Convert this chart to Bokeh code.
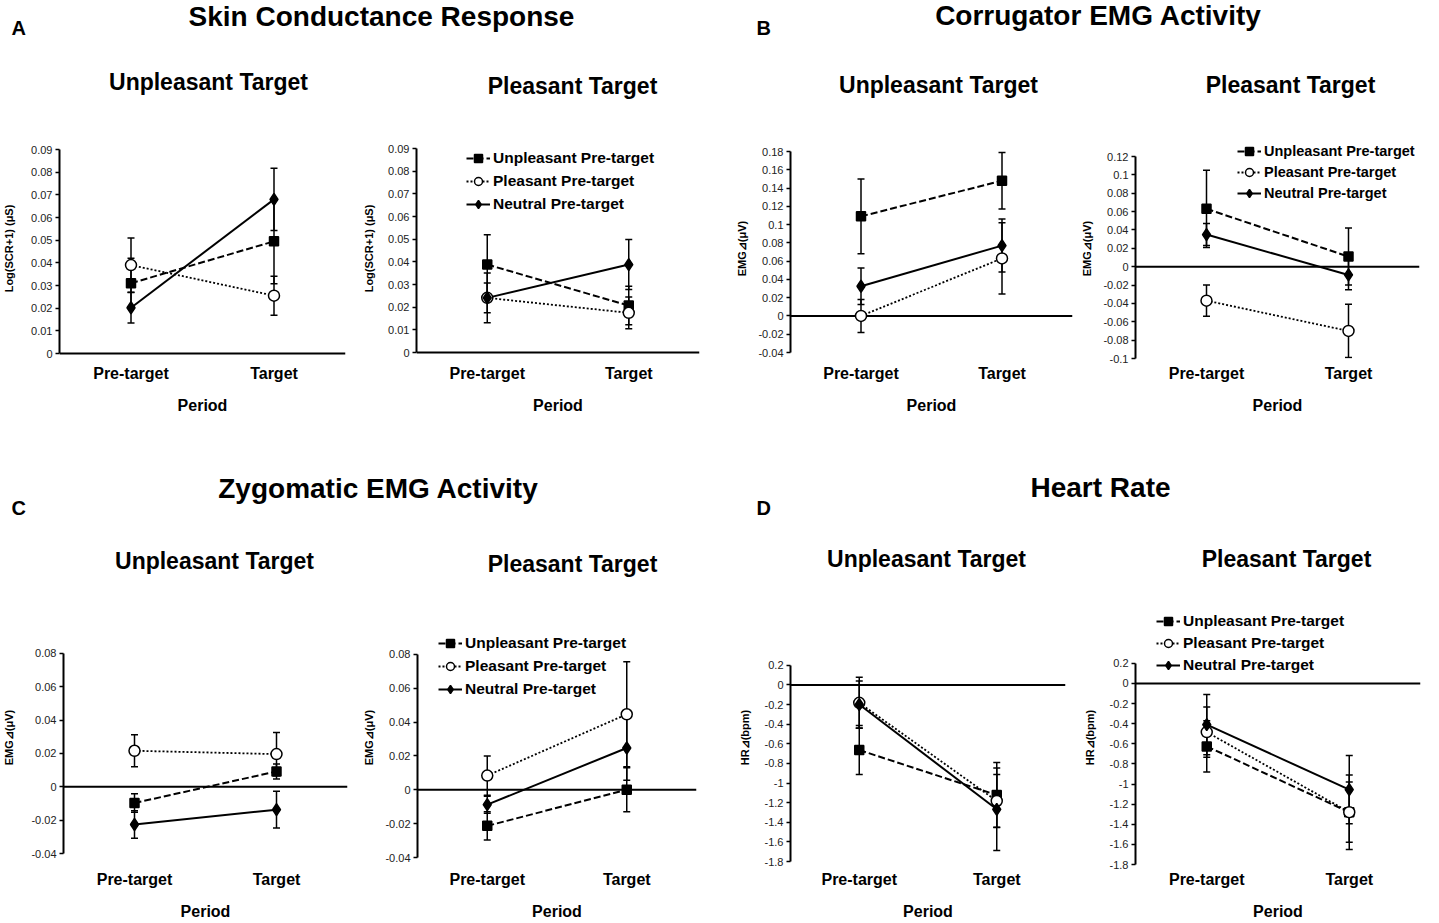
from bokeh.plotting import figure
from bokeh.models import (FactorRange, Range1d, FixedTicker, Whisker, TeeHead,
                          ColumnDataSource, Legend, LegendItem, Span)
from bokeh.layouts import column, row
from bokeh.embed import file_html
from bokeh.resources import INLINE
from bokeh.core.properties import value

FONT = "Liberation Sans"

# ---------------- data ----------------
categories = ["Pre-target", "Target"]
series_names = ["Unpleasant Pre-target", "Pleasant Pre-target", "Neutral Pre-target"]

section_titles = ["Skin Conductance Response", "Corrugator EMG Activity",
                  "Zygomatic EMG Activity", "Heart Rate"]
section_letters = ["A", "B", "C", "D"]
panel_titles = ["Unpleasant Target", "Pleasant Target"]
x_label = "Period"
y_label_scr = "Log(SCR+1) (μS)"
y_label_emg = "EMG⊿(μV)"
y_label_hr = "HR⊿(bpm)"

# A - Skin conductance, unpleasant target
scr_u_unp = [0.031, 0.0495]
scr_u_unp_err = [0.011, 0.0187]
scr_u_ple = [0.039, 0.0255]
scr_u_ple_err = [0.012, 0.0086]
scr_u_neu = [0.0202, 0.068]
scr_u_neu_err = [0.0067, 0.0137]
# A - Skin conductance, pleasant target
scr_p_unp = [0.0388, 0.0207]
scr_p_unp_err = [0.0132, 0.0085]
scr_p_ple = [0.0241, 0.0175]
scr_p_ple_err = [0.0066, 0.007]
scr_p_neu = [0.0241, 0.0388]
scr_p_neu_err = [0.011, 0.011]

# B - Corrugator, unpleasant target
cor_u_unp = [0.109, 0.148]
cor_u_unp_err = [0.041, 0.031]
cor_u_ple = [0.0, 0.063]
cor_u_ple_err = [0.018, 0.039]
cor_u_neu = [0.0325, 0.077]
cor_u_neu_err = [0.02, 0.029]
# B - Corrugator, pleasant target
cor_p_unp = [0.063, 0.011]
cor_p_unp_err = [0.042, 0.031]
cor_p_ple = [-0.037, -0.070]
cor_p_ple_err = [0.017, 0.029]
cor_p_neu = [0.035, -0.009]
cor_p_neu_err = [0.012, 0.016]

# C - Zygomatic, unpleasant target
zyg_u_unp = [-0.0097, 0.0092]
zyg_u_unp_err = [0.0055, 0.0045]
zyg_u_ple = [0.0216, 0.0196]
zyg_u_ple_err = [0.0096, 0.013]
zyg_u_neu = [-0.0226, -0.0137]
zyg_u_neu_err = [0.0083, 0.011]
# C - Zygomatic, pleasant target
zyg_p_unp = [-0.0213, 0.0]
zyg_p_unp_err = [0.0083, 0.013]
zyg_p_ple = [0.0084, 0.0446]
zyg_p_ple_err = [0.0116, 0.031]
zyg_p_neu = [-0.0088, 0.0247]
zyg_p_neu_err = [0.005, 0.019]

# D - Heart rate, unpleasant target
hr_u_unp = [-0.664, -1.122]
hr_u_unp_err = [0.25, 0.33]
hr_u_ple = [-0.183, -1.183]
hr_u_ple_err = [0.26, 0.27]
hr_u_neu = [-0.20, -1.268]
hr_u_neu_err = [0.24, 0.42]
# D - Heart rate, pleasant target
hr_p_unp = [-0.626, -1.28]
hr_p_unp_err = [0.255, 0.30]
hr_p_ple = [-0.484, -1.28]
hr_p_ple_err = [0.25, 0.37]
hr_p_neu = [-0.41, -1.056]
hr_p_neu_err = [0.30, 0.34]

# y tick values (labels in Excel "General" style)
yticks_scr = [0, 0.01, 0.02, 0.03, 0.04, 0.05, 0.06, 0.07, 0.08, 0.09]
yticks_cor_u = [-0.04, -0.02, 0, 0.02, 0.04, 0.06, 0.08, 0.1, 0.12, 0.14, 0.16, 0.18]
yticks_cor_p = [-0.1, -0.08, -0.06, -0.04, -0.02, 0, 0.02, 0.04, 0.06, 0.08, 0.1, 0.12]
yticks_zyg = [-0.04, -0.02, 0, 0.02, 0.04, 0.06, 0.08]
yticks_hr = [-1.8, -1.6, -1.4, -1.2, -1, -0.8, -0.6, -0.4, -0.2, 0, 0.2]

# ---------------- styles ----------------
STYLES = [
    dict(dash="7 3", marker="square", size=9, fill="black", lw=2.0),
    dict(dash="2 2", marker="circle", size=11, fill="white", lw=1.8),
    dict(dash="solid", marker="diamond", size=12, fill="black", lw=2.0),
]

# rows: (page top, height, frame top, frame bottom)
ROW1 = (105, 320, 138, 358)
ROW2 = (590, 332, 610, 865)


def make_panel(w, bl, br, rowspec, tick_top, tick_bot, yticks, ylabel, ylab_off,
               means, errs, legend_loc=None, legend_spacing=3, legend_size="15.5px"):
    row_top, h, f_top, f_bot = rowspec
    ymin, ymax = yticks[0], yticks[-1]
    per_px = (ymax - ymin) / (tick_bot - tick_top)
    y_end = ymax + (tick_top - f_top) * per_px
    y_start = ymin - (f_bot - tick_bot) * per_px
    p = figure(width=w, height=h,
               x_range=FactorRange(factors=categories, range_padding=0),
               y_range=Range1d(y_start, y_end),
               output_backend="svg", toolbar_location=None,
               min_border_left=bl, min_border_right=br,
               min_border_top=f_top - row_top, min_border_bottom=row_top + h - f_bot)
    p.outline_line_color = None
    p.xgrid.grid_line_color = None
    p.ygrid.grid_line_color = None
    p.background_fill_color = "white"
    p.border_fill_color = "white"

    yax = p.yaxis[0]
    yax.bounds = (ymin, ymax)
    yax.ticker = FixedTicker(ticks=yticks)
    yax.major_label_overrides = {t: f"{t:g}" for t in yticks}
    yax.major_label_text_font = FONT
    yax.major_label_text_font_size = "11px"
    yax.major_label_text_color = "#222222"
    yax.major_label_standoff = 3
    yax.axis_label = ylabel
    yax.axis_label_text_font = FONT
    yax.axis_label_text_font_size = "11px"
    yax.axis_label_text_font_style = "bold"
    yax.axis_label_text_color = "black"
    yax.axis_label_standoff = ylab_off
    yax.axis_line_color = "black"
    yax.axis_line_width = 2
    yax.major_tick_line_color = "black"
    yax.major_tick_line_width = 1.5
    yax.major_tick_out = 4
    yax.major_tick_in = 0
    yax.minor_tick_line_color = None

    xax = p.xaxis[0]
    xax.axis_line_color = None
    xax.major_tick_line_color = None
    xax.major_tick_out = 0
    xax.major_tick_in = 0
    xax.minor_tick_line_color = None
    xax.major_label_text_font = FONT
    xax.major_label_text_font_size = "16px"
    xax.major_label_text_font_style = "bold"
    xax.major_label_text_color = "black"
    xax.major_label_standoff = 6
    xax.axis_label = x_label
    xax.axis_label_text_font = FONT
    xax.axis_label_text_font_size = "16px"
    xax.axis_label_text_font_style = "bold"
    xax.axis_label_text_color = "black"
    xax.axis_label_standoff = 12

    # horizontal axis line drawn at zero
    p.add_layout(Span(location=0, dimension="width", line_color="black",
                      line_width=2, level="underlay"))

    sources = []
    for m, e in zip(means, errs):
        src = ColumnDataSource(dict(
            x=categories, y=m,
            upper=[a + b for a, b in zip(m, e)],
            lower=[a - b for a, b in zip(m, e)]))
        sources.append(src)
        p.add_layout(Whisker(source=src, base="x", upper="upper", lower="lower",
                             dimension="height", line_color="black", line_width=1.5,
                             level="underlay",
                             upper_head=TeeHead(size=7, line_color="black", line_width=1.5),
                             lower_head=TeeHead(size=7, line_color="black", line_width=1.5)))
    lines = []
    for src, st in zip(sources, STYLES):
        lines.append(p.line("x", "y", source=src, line_color="black",
                            line_width=st["lw"], line_dash=st["dash"]))
    marks = []
    for src, st in zip(sources, STYLES):
        marks.append(p.scatter("x", "y", source=src, marker=st["marker"], size=st["size"],
                               fill_color=st["fill"], line_color="black", line_width=1.5))
    if legend_loc is not None:
        items = [LegendItem(label=n, renderers=[l, s])
                 for n, l, s in zip(series_names, lines, marks)]
        leg = Legend(items=items, location=legend_loc, padding=0, margin=0,
                     spacing=legend_spacing, glyph_width=24, glyph_height=20,
                     label_height=20, label_standoff=3,
                     label_text_font=FONT, label_text_font_size=legend_size,
                     label_text_font_style="bold", label_text_color="black",
                     border_line_color=None, background_fill_alpha=0)
        p.add_layout(leg)
    return p


def strip(h, texts):
    s = figure(width=1439, height=h, x_range=Range1d(0, 1439), y_range=Range1d(h, 0),
               x_axis_type=None, y_axis_type=None, output_backend="svg",
               toolbar_location=None, min_border=0)
    s.outline_line_color = None
    s.background_fill_color = "white"
    s.border_fill_color = "white"
    for txt, x, y, size, align in texts:
        s.text(x=[x], y=[y], text=[txt], text_font=value(FONT), text_font_size=size,
               text_font_style="bold", text_align=align, text_baseline="middle",
               text_color="black")
    return s


top = strip(105, [
    (section_letters[0], 11, 27, "20px", "left"),
    (section_titles[0], 381, 16, "28px", "center"),
    (section_letters[1], 756, 27, "20px", "left"),
    (section_titles[1], 1098, 15, "28px", "center"),
    (panel_titles[0], 208, 81, "23px", "center"),
    (panel_titles[1], 572, 85, "23px", "center"),
    (panel_titles[0], 938, 84, "23px", "center"),
    (panel_titles[1], 1290, 84, "23px", "center"),
])

mid = strip(165, [
    (section_letters[2], 11, 82, "20px", "left"),
    (section_titles[2], 378, 63, "28px", "center"),
    (section_letters[3], 756, 82, "20px", "left"),
    (section_titles[3], 1100, 62, "28px", "center"),
    (panel_titles[0], 214, 135, "23px", "center"),
    (panel_titles[1], 572, 138, "23px", "center"),
    (panel_titles[0], 926, 133, "23px", "center"),
    (panel_titles[1], 1286, 133, "23px", "center"),
])

a1 = make_panel(360, 59, 15, ROW1, 149, 353, yticks_scr, y_label_scr, 13,
                [scr_u_unp, scr_u_ple, scr_u_neu],
                [scr_u_unp_err, scr_u_ple_err, scr_u_neu_err])
a2 = make_panel(370, 52, 31, ROW1, 148, 352, yticks_scr, y_label_scr, 10,
                [scr_p_unp, scr_p_ple, scr_p_neu],
                [scr_p_unp_err, scr_p_ple_err, scr_p_neu_err],
                legend_loc=(50, 144), legend_spacing=3)
b1 = make_panel(348, 60, 6, ROW1, 151, 352, yticks_cor_u, y_label_emg, 7,
                [cor_u_unp, cor_u_ple, cor_u_neu],
                [cor_u_unp_err, cor_u_ple_err, cor_u_neu_err])
b2 = make_panel(361, 52, 20, ROW1, 156, 358, yticks_cor_p, y_label_emg, 7,
                [cor_p_unp, cor_p_ple, cor_p_neu],
                [cor_p_unp_err, cor_p_ple_err, cor_p_neu_err],
                legend_loc=(102, 155), legend_spacing=1, legend_size="14.5px")

c1 = make_panel(360, 62, 13, ROW2, 653, 854, yticks_zyg, y_label_emg, 13,
                [zyg_u_unp, zyg_u_ple, zyg_u_neu],
                [zyg_u_unp_err, zyg_u_ple_err, zyg_u_neu_err])
c2 = make_panel(370, 52, 34, ROW2, 654, 858, yticks_zyg, y_label_emg, 7,
                [zyg_p_unp, zyg_p_ple, zyg_p_neu],
                [zyg_p_unp_err, zyg_p_ple_err, zyg_p_neu_err],
                legend_loc=(21, 165), legend_spacing=3)
d1 = make_panel(350, 60, 15, ROW2, 665, 862, yticks_hr, y_label_hr, 11,
                [hr_u_unp, hr_u_ple, hr_u_neu],
                [hr_u_unp_err, hr_u_ple_err, hr_u_neu_err])
d2 = make_panel(359, 53, 19, ROW2, 663, 865, yticks_hr, y_label_hr, 11,
                [hr_p_unp, hr_p_ple, hr_p_neu],
                [hr_p_unp_err, hr_p_ple_err, hr_p_neu_err],
                legend_loc=(21, 189), legend_spacing=2)

layout = column(top, row(a1, a2, b1, b2), mid, row(c1, c2, d1, d2))

open("out.html", "w").write(file_html(layout, INLINE))
